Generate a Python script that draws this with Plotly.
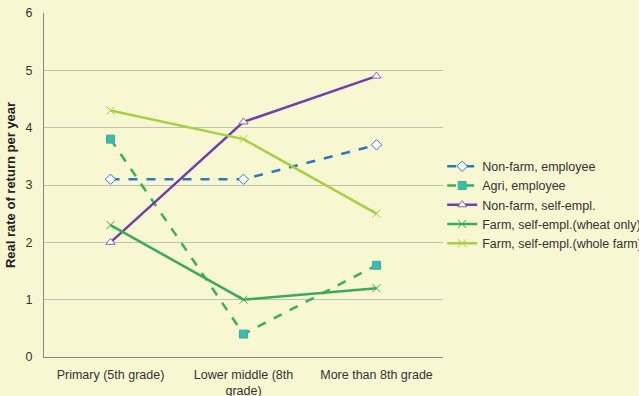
import plotly.graph_objects as go

categories = ["Primary (5th grade)", "Lower middle (8th<br>grade)", "More than 8th grade"]
nonfarm_employee = [3.1, 3.1, 3.7]
agri_employee = [3.8, 0.4, 1.6]
nonfarm_self = [2.0, 4.1, 4.9]
farm_self_wheat = [2.3, 1.0, 1.2]
farm_self_whole = [4.3, 3.8, 2.5]
y_ticks = [0, 1, 2, 3, 4, 5, 6]

bg = "#f7f7d2"
fig = go.Figure()
fig.add_trace(go.Scatter(x=categories, y=nonfarm_employee, name="Non-farm, employee", mode="lines+markers",
    line=dict(color="#2a78c2", width=2.5, dash="dash"),
    marker=dict(symbol="diamond", size=8, color="white", line=dict(color="#2a78c2", width=1))))
fig.add_trace(go.Scatter(x=categories, y=agri_employee, name="Agri, employee", mode="lines+markers",
    line=dict(color="#3ab05a", width=2.5, dash="dash"),
    marker=dict(symbol="square", size=8, color="#3cbcae", line=dict(color="#3ab09a", width=1))))
fig.add_trace(go.Scatter(x=categories, y=nonfarm_self, name="Non-farm, self-empl.", mode="lines+markers",
    line=dict(color="#7040a8", width=2.5),
    marker=dict(symbol="triangle-up", size=8, color="white", line=dict(color="#8a60b8", width=1))))
fig.add_trace(go.Scatter(x=categories, y=farm_self_wheat, name="Farm, self-empl.(wheat only)", mode="lines+markers",
    line=dict(color="#3aaa5a", width=2.5),
    marker=dict(symbol="x-thin", size=8, color="#3aaa5a", line=dict(color="#3aaa5a", width=1))))
fig.add_trace(go.Scatter(x=categories, y=farm_self_whole, name="Farm, self-empl.(whole farm)", mode="lines+markers",
    line=dict(color="#a8d040", width=2.5),
    marker=dict(symbol="x-thin", size=8, color="#a8d040", line=dict(color="#a8d040", width=1))))

fig.update_layout(
    width=639, height=396,
    margin=dict(l=44, r=196, t=13, b=39, autoexpand=False),
    paper_bgcolor=bg, plot_bgcolor=bg,
    font=dict(family="Liberation Sans, Arial, sans-serif", size=12.5, color="#333333"),
    showlegend=True,
    legend=dict(xref="container", yref="container", x=0.692, y=0.482, xanchor="left", yanchor="middle",
                bgcolor="rgba(0,0,0,0)",
                font=dict(size=12.5, color="#333333"), tracegroupgap=0, itemwidth=30),
    xaxis=dict(showgrid=False, showline=True, linecolor="#888888", linewidth=1, ticks="",
               range=[-0.5, 2.5], tickfont=dict(size=12.5), automargin=False, ticklabelstandoff=6),
    yaxis=dict(range=[0, 6], tickvals=y_ticks, showgrid=True, gridcolor="#c0c0b0", gridwidth=1,
               showline=True, linecolor="#888888", linewidth=1, zeroline=False, ticks="",
               title=dict(text="<b>Real rate of return per year</b>", font=dict(size=13, color="#222222"), standoff=6),
               tickfont=dict(size=12.5), automargin=False, ticklabelstandoff=8),
)
fig.write_html("out.html")
